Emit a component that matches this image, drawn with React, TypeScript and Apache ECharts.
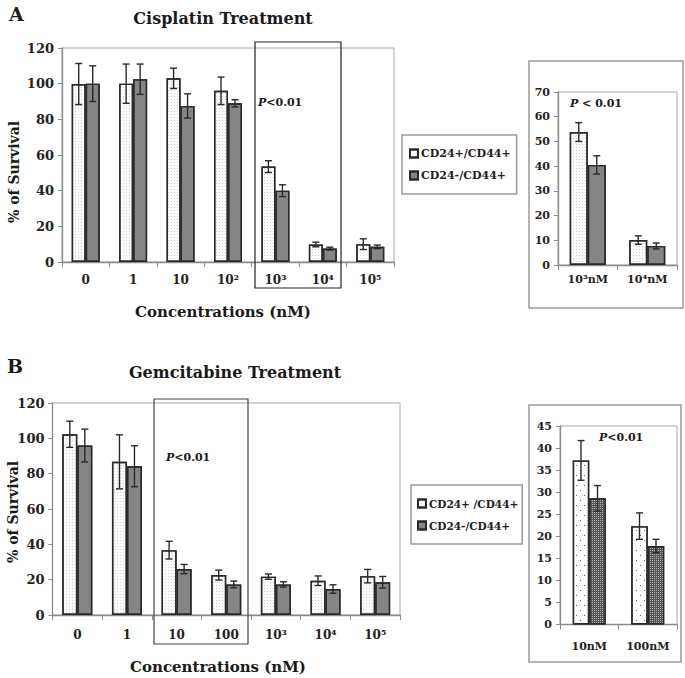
import React, { useEffect, useRef } from "react";
import * as echarts from "echarts";

// ---------- data ----------
const catsA = ["0", "1", "10", "10²", "10³", "10⁴", "10⁵"];
const cisPos = [99.8, 100, 103, 96, 53.5, 9.8, 10];
const cisPosErr = [11.5, 11, 5.7, 7.7, 3.3, 1.3, 3];
const cisNeg = [100, 102.5, 87.5, 89, 40, 7.5, 8.5];
const cisNegErr = [10, 8.5, 6.8, 2, 3.3, 0.8, 1];

const catsAIn = ["10³nM", "10⁴nM"];
const cisPosIn = [53.8, 10.1];
const cisPosInErr = [3.8, 1.7];
const cisNegIn = [40.5, 7.7];
const cisNegInErr = [3.7, 1.2];

const catsB = ["0", "1", "10", "100", "10³", "10⁴", "10⁵"];
const gemPos = [102.3, 86.7, 36.7, 22.6, 21.7, 19.4, 22];
const gemPosErr = [7.4, 15.3, 5, 2.8, 1.5, 2.7, 3.8];
const gemNeg = [95.9, 84.2, 26, 17.3, 17.3, 14.7, 18.5];
const gemNegErr = [9.3, 11.6, 2.6, 1.9, 1.5, 2.4, 3.3];

const catsBIn = ["10nM", "100nM"];
const gemPosIn = [37.2, 22.3];
const gemPosInErr = [4.5, 3];
const gemNegIn = [28.6, 17.8];
const gemNegInErr = [2.9, 1.5];

const namePosA = "CD24+/CD44+";
const nameNeg = "CD24-/CD44+";
const namePosB = "CD24+ /CD44+";

const FONT = "DejaVu Serif";

export default function App() {
  const ref = useRef<HTMLDivElement>(null);

  useEffect(() => {
    if (!ref.current) return;
    const chart = echarts.init(ref.current, undefined, { renderer: "svg" });

    const lightDecal = {
      symbol: "rect",
      symbolSize: 1,
      color: "rgba(0,0,0,0.16)",
      dashArrayX: [1, 2],
      dashArrayY: [1, 2],
      rotation: 0,
    };
    const dotDecal = {
      symbol: "rect",
      symbolSize: 1,
      color: "rgba(0,0,0,0.6)",
      dashArrayX: [
        [1, 7],
        [0, 4, 1, 3],
      ],
      dashArrayY: [1, 4],
      rotation: 0,
    };
    const checkDecal = {
      symbol: "rect",
      symbolSize: 1,
      color: "rgba(255,255,255,0.55)",
      dashArrayX: [1, 1],
      dashArrayY: [1, 1],
      rotation: 0,
    };

    const axisLineStyle = { color: "#8a8a8a", width: 1.3 };
    const labelStyle = (size: number, margin: number) => ({
      fontFamily: FONT,
      fontWeight: "bold" as const,
      fontSize: size,
      color: "#222",
      margin,
    });

    const mkX = (gi: number, data: string[], size: number, margin: number) => ({
      gridIndex: gi,
      type: "category",
      data,
      axisLine: { show: true, lineStyle: axisLineStyle },
      axisTick: { show: true, length: 5, lineStyle: { color: "#8a8a8a" } },
      axisLabel: labelStyle(size, margin),
      splitLine: { show: false },
    });
    const mkY = (gi: number, max: number, interval: number, size: number) => ({
      gridIndex: gi,
      type: "value",
      min: 0,
      max,
      interval,
      axisLine: { show: true, lineStyle: axisLineStyle },
      axisTick: { show: true, length: 4, lineStyle: { color: "#8a8a8a" } },
      axisLabel: labelStyle(size, 8),
      splitLine: { show: false },
    });

    const mkBar = (
      name: string,
      gi: number,
      data: number[],
      color: string,
      bw: number,
      decal: any
    ) => ({
      name,
      type: "bar",
      xAxisIndex: gi,
      yAxisIndex: gi,
      data,
      barWidth: bw,
      barGap: "0%",
      itemStyle: {
        color,
        borderColor: "#2a2a2a",
        borderWidth: 1.4,
        decal: decal || { symbol: "none" },
      },
    });

    const mkErr = (
      gi: number,
      vals: number[],
      errs: number[],
      side: number,
      bw: number
    ) => ({
      name: "err" + gi + side,
      type: "custom",
      xAxisIndex: gi,
      yAxisIndex: gi,
      z: 5,
      data: vals.map((v, i) => [i, v, errs[i]]),
      encode: { x: 0, y: 1 },
      renderItem: (params: any, api: any) => {
        const i = api.value(0);
        const v = api.value(1);
        const e = api.value(2);
        const top = api.coord([i, v + e]);
        const bot = api.coord([i, v - e]);
        const x = top[0] + (side * bw) / 2;
        const cap = 3.5;
        const style = { stroke: "#2a2a2a", lineWidth: 1.4 };
        return {
          type: "group",
          children: [
            { type: "line", shape: { x1: x, y1: top[1], x2: x, y2: bot[1] }, style },
            { type: "line", shape: { x1: x - cap, y1: top[1], x2: x + cap, y2: top[1] }, style },
            { type: "line", shape: { x1: x - cap, y1: bot[1], x2: x + cap, y2: bot[1] }, style },
          ],
        };
      },
    });

    const GREY = "#858585";
    const WHITE = "#fbfbfb";

    const gridStyle = { show: true, borderColor: "#a8a8a8", borderWidth: 1, backgroundColor: "transparent" };

    const legendBase = {
      orient: "vertical",
      icon: "rect",
      itemWidth: 8,
      itemHeight: 8,
      itemGap: 11,
      borderColor: "#9a9a9a",
      borderWidth: 1.5,
      selectedMode: false,
    };
    const legendText = (size: number) => ({
      fontFamily: FONT,
      fontWeight: "bold",
      fontSize: size,
      color: "#222",
      padding: [0, 0, 0, -2],
    });

    const txt = (
      text: string,
      x: number,
      y: number,
      size: number,
      align: string = "center",
      rotation = 0
    ) => ({
      type: "text",
      x,
      y,
      rotation,
      style: {
        text,
        fontFamily: FONT,
        fontWeight: "bold",
        fontSize: size,
        fill: "#1a1a1a",
        textAlign: align,
        textVerticalAlign: "middle",
      },
    });

    const ptxt = (text: string, x: number, y: number, size: number) => ({
      type: "text",
      x,
      y,
      style: {
        text: "{i|P}{n|" + text + "}",
        textVerticalAlign: "middle",
        rich: {
          i: { fontFamily: FONT, fontWeight: "bold", fontStyle: "italic", fontSize: size, fill: "#1a1a1a" },
          n: { fontFamily: FONT, fontWeight: "bold", fontSize: size, fill: "#1a1a1a" },
        },
      },
    });

    const boxRect = (x: number, y: number, w: number, h: number, stroke: string, lw: number) => ({
      type: "rect",
      shape: { x, y, width: w, height: h },
      style: { fill: "none", stroke, lineWidth: lw },
      z: 10,
    });

    const option: any = {
      animation: false,
      backgroundColor: "#ffffff",
      grid: [
        { left: 62, top: 48, width: 332, height: 214, ...gridStyle },
        { left: 558, top: 92, width: 119, height: 173, ...gridStyle },
        { left: 52.5, top: 403, width: 347.5, height: 212, ...gridStyle },
        { left: 560, top: 426, width: 117, height: 198.5, ...gridStyle },
      ],
      xAxis: [
        mkX(0, catsA, 12, 12),
        mkX(1, catsAIn, 11, 9),
        mkX(2, catsB, 12, 14),
        mkX(3, catsBIn, 11, 16),
      ],
      yAxis: [mkY(0, 120, 20, 13), mkY(1, 70, 10, 11), mkY(2, 120, 20, 13), mkY(3, 45, 5, 11)],
      legend: [
        {
          ...legendBase,
          left: 402,
          top: 135,
          padding: [13, 6, 13, 7],
          textStyle: legendText(11),
          data: [namePosA, nameNeg],
        },
        {
          ...legendBase,
          left: 411,
          top: 485,
          padding: [13, 4, 13, 6],
          textStyle: legendText(10.5),
          data: [namePosB, nameNeg],
        },
      ],
      series: [
        mkBar(namePosA, 0, cisPos, WHITE, 14, lightDecal),
        mkBar(nameNeg, 0, cisNeg, GREY, 14, null),
        mkErr(0, cisPos, cisPosErr, -1, 14),
        mkErr(0, cisNeg, cisNegErr, 1, 14),

        mkBar(namePosA, 1, cisPosIn, WHITE, 18, lightDecal),
        mkBar(nameNeg, 1, cisNegIn, GREY, 18, null),
        mkErr(1, cisPosIn, cisPosInErr, -1, 18),
        mkErr(1, cisNegIn, cisNegInErr, 1, 18),

        mkBar(namePosB, 2, gemPos, WHITE, 15, lightDecal),
        mkBar(nameNeg, 2, gemNeg, GREY, 15, null),
        mkErr(2, gemPos, gemPosErr, -1, 15),
        mkErr(2, gemNeg, gemNegErr, 1, 15),

        mkBar(namePosB, 3, gemPosIn, "#ffffff", 16.5, dotDecal),
        mkBar(nameNeg, 3, gemNegIn, "#555555", 16.5, checkDecal),
        mkErr(3, gemPosIn, gemPosInErr, -1, 16.5),
        mkErr(3, gemNegIn, gemNegInErr, 1, 16.5),
      ],
      graphic: [
        txt("A", 9, 14, 19, "left"),
        txt("Cisplatin Treatment", 223, 18, 16),
        txt("% of Survival", 14, 172, 14, "center", Math.PI / 2),
        txt("Concentrations (nM)", 223, 312, 15),
        txt("B", 7, 366, 19, "left"),
        txt("Gemcitabine Treatment", 235, 372, 16),
        txt("% of Survival", 13, 512, 14, "center", Math.PI / 2),
        txt("Concentrations (nM)", 218, 667, 15),
        boxRect(255, 42, 86, 246, "#222", 1.2),
        boxRect(154, 399, 94, 245, "#444", 1.2),
        boxRect(529, 61, 154, 247, "#9a9a9a", 1.5),
        boxRect(529, 405, 152, 257, "#9a9a9a", 1.5),
        ptxt("<0.01", 258, 102, 11),
        ptxt(" < 0.01", 570, 103, 11),
        ptxt("<0.01", 166, 457, 11),
        ptxt("<0.01", 599, 437, 11),
      ],
    };

    chart.setOption(option);
    return () => chart.dispose();
  }, []);

  return (
    <div
      ref={ref}
      style={{ position: "fixed", left: 0, top: 0, width: 685, height: 678, background: "#fff" }}
    />
  );
}
